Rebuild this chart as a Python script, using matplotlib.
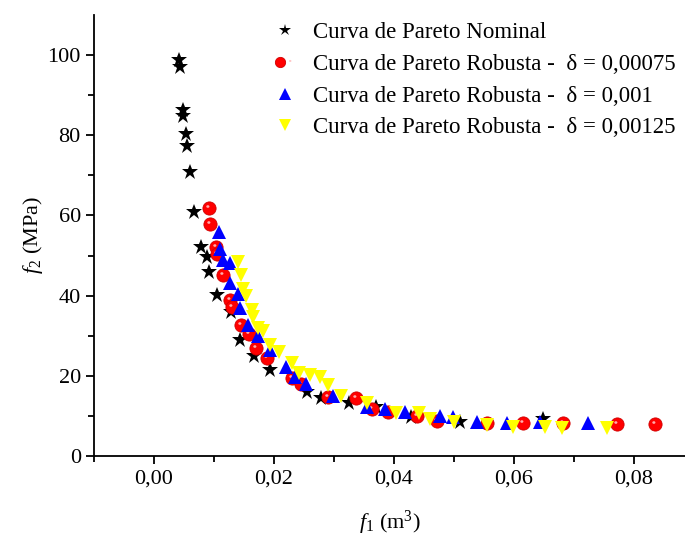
import matplotlib
matplotlib.use("Agg")
import matplotlib.pyplot as plt
from matplotlib.path import Path
from matplotlib.legend_handler import HandlerTuple
import numpy as np

plt.rcParams['font.family'] = ['Liberation Serif', 'DejaVu Serif']
plt.rcParams['mathtext.fontset'] = 'custom'
plt.rcParams['mathtext.rm'] = 'Liberation Serif'
plt.rcParams['mathtext.it'] = 'Liberation Serif:italic'

# Nominal Pareto front
nom_f1 = [0.00422, 0.00433, 0.00478, 0.00488, 0.00528, 0.00555, 0.0060, 0.00667,
          0.00783, 0.00878, 0.00917, 0.0105, 0.01283, 0.01433, 0.01662, 0.01933,
          0.0255, 0.02775, 0.03255, 0.037, 0.04275, 0.051, 0.06478]
nom_f2 = [98.75, 97.08, 86.28, 84.79, 80.22, 77.31, 70.90, 60.85,
          52.12, 49.63, 45.89, 40.15, 35.99, 29.0, 25.06, 21.45,
          15.96, 14.46, 13.14, 12.34, 9.65, 8.55, 9.15]

# Robust front, delta = 0.00075
r1_f1 = [0.00922, 0.00933, 0.01028, 0.01055, 0.01155, 0.01267, 0.0130, 0.0145,
         0.01588, 0.01708, 0.01875, 0.02295, 0.0245, 0.02905, 0.03372, 0.03633,
         0.03905, 0.04378, 0.04712, 0.05555, 0.06145, 0.06822, 0.07712, 0.0835]
r1_f2 = [61.77, 57.86, 52.24, 50.37, 45.14, 38.9, 37.08, 32.67,
         30.55, 27.06, 24.49, 19.53, 18.08, 14.79, 14.39, 11.77,
         11.05, 9.98, 8.73, 8.35, 8.15, 8.15, 7.9, 7.9]

# Robust front, delta = 0.001
r2_f1 = [0.01088, 0.0110, 0.01155, 0.01267, 0.01267, 0.0140, 0.01433, 0.01572,
         0.01725, 0.01938, 0.02192, 0.02358, 0.02538, 0.02988, 0.0355, 0.03842,
         0.04175, 0.04772, 0.04988, 0.05378, 0.05878, 0.06433, 0.07238]
r2_f2 = [55.94, 51.54, 48.88, 48.05, 43.14, 40.4, 36.91, 32.79,
         29.93, 26.56, 22.19, 19.6, 18.03, 14.96, 12.1, 11.65,
         10.9, 9.98, 9.8, 8.43, 8.23, 8.55, 8.15]

# Robust front, delta = 0.00125
r3_f1 = [0.01405, 0.0145, 0.01488, 0.01538, 0.01628, 0.01645, 0.01738, 0.01822,
         0.01933, 0.0208, 0.02308, 0.02422, 0.02597, 0.02762, 0.02905, 0.0311,
         0.03555, 0.04038, 0.04413, 0.046, 0.05008, 0.0555, 0.05983, 0.06517,
         0.06795, 0.07555]
r3_f2 = [48.33, 45.26, 41.57, 39.83, 36.41, 34.74, 31.84, 31.3,
         27.81, 26.06, 23.32, 20.62, 20.2, 19.78, 17.71, 14.89,
         13.14, 10.85, 10.65, 9.15, 8.43, 7.61, 7.23, 7.15,
         6.9, 6.9]

labels = ["Curva de Pareto Nominal",
          "Curva de Pareto Robusta -  \u03b4 = 0,00075",
          "Curva de Pareto Robusta -  \u03b4 = 0,001",
          "Curva de Pareto Robusta -  \u03b4 = 0,00125"]

x_ticks = [0.00, 0.02, 0.04, 0.06, 0.08]
x_ticklabels = ["0,00", "0,02", "0,04", "0,06", "0,08"]
y_ticks = [0, 20, 40, 60, 80, 100]

W, H = 685, 540
fig = plt.figure(figsize=(W / 100, H / 100), dpi=100)
ax = fig.add_axes([94 / W, (H - 456) / H, (W - 94) / W, (456 - 15) / H])

# small off-centre glint drawn on top of each red ball
theta = np.linspace(0, 2 * np.pi, 25)
glint_verts = [(-1, -1), (1, 1)] + [(-0.25 + 0.24 * np.cos(t), 0.30 + 0.20 * np.sin(t)) for t in theta]
glint_codes = [Path.MOVETO, Path.MOVETO] + [Path.MOVETO] + [Path.LINETO] * (len(theta) - 2) + [Path.CLOSEPOLY]
glint = Path(glint_verts, glint_codes)

h0, = ax.plot(nom_f1, nom_f2, ls='none', marker='*', ms=12, color='black', mew=0)
h1, = ax.plot(r1_f1, r1_f2, ls='none', marker='o', ms=9.5, mfc='#ff0000', mec='#d00000', mew=0.6)
h1g, = ax.plot(r1_f1, r1_f2, ls='none', marker=glint, ms=9.5, mfc='#ffc0c0', mec='none', alpha=0.9)
h2, = ax.plot(r2_f1, r2_f2, ls='none', marker='^', ms=10.5, color='#0000ff', mew=0)
h3, = ax.plot(r3_f1, r3_f2, ls='none', marker='v', ms=10.5, color='#ffff00', mew=0)

ax.set_xlim(-0.01, (W - 154) / 6000)
ax.set_ylim(0, 110)
ax.set_xticks(x_ticks)
ax.set_xticklabels(x_ticklabels)
ax.set_xticks([-0.01, 0.01, 0.03, 0.05, 0.07], minor=True)
ax.set_yticks(y_ticks)
ax.set_yticks([10, 30, 50, 70, 90], minor=True)

for s in ['top', 'right']:
    ax.spines[s].set_visible(False)
for s in ['left', 'bottom']:
    ax.spines[s].set_linewidth(1.3)
ax.tick_params(which='major', direction='out', length=6, width=1.3, labelsize=16, pad=3.5)
ax.tick_params(which='minor', direction='out', length=4, width=1.3)

ax.set_xlabel(r"$f_1$ (m$^3$)", fontsize=16, labelpad=15)
ax.set_ylabel(r"$f_2$ (MPa)", fontsize=16, labelpad=2)

ax.legend([h0, (h1, h1g), h2, h3], labels,
          handler_map={tuple: HandlerTuple(ndivide=None)},
          loc='upper left', bbox_to_anchor=(274 / W, 1 - 22 / H),
          bbox_transform=fig.transFigure, frameon=False, fontsize=16.5,
          markerscale=0.78,
          handlelength=1.0, handletextpad=0.71, labelspacing=0.47,
          borderaxespad=0, borderpad=0)

fig.savefig("out.png", dpi=100)
